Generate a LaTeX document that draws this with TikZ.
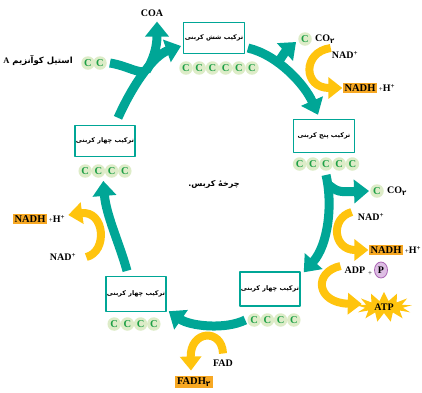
\documentclass[tikz,border=0pt]{standalone}
\usepackage{fontspec}
\setmainfont{Liberation Serif}
\newfontfamily\farsi[Script=Arabic]{DejaVu Sans}
\TeXXeTstate=1
\usetikzlibrary{arrows.meta,shapes.symbols,shapes.geometric}
\definecolor{cycteal}{RGB}{0,166,150}
\definecolor{cgold}{RGB}{255,196,14}
\definecolor{nadhfill}{RGB}{247,168,35}
\definecolor{cfill}{RGB}{221,236,200}
\definecolor{cgreen}{RGB}{30,160,70}
\begin{document}
\begin{tikzpicture}[x=1pt,y=-1pt,line join=round,
  box/.style={draw=cycteal,line width=1.4pt,fill=white,minimum width=58pt,minimum height=31pt,inner sep=1pt,font=\farsi\bfseries\fontsize{6.4}{8}\selectfont},
  carb/.style={circle,fill=cfill,inner sep=0pt,minimum size=13.5pt,text=cgreen,font=\bfseries\fontsize{10.5}{10}\selectfont},
  cyc/.style={draw=cycteal,line width=9pt,-{Triangle[width=23pt,length=15pt]}},
  ylw/.style={draw=cgold,line width=8pt,-{Triangle[width=21pt,length=14pt]}},
  lbl/.style={font=\bfseries\fontsize{10}{10}\selectfont,inner sep=1pt},
  nadh/.style={fill=nadhfill,font=\bfseries\fontsize{10.5}{10}\selectfont,inner sep=2pt}]
\useasboundingbox (0,0) rectangle (422,392);
\def\plus{{\mdseries\fontsize{7}{7}\selectfont+}}
% compounds of the cycle
\node[box] (six) at (214,38) {\beginR ترکیب شش کربنی\endR};
\node[box,minimum width=61pt,minimum height=33pt] (five) at (324,136) {\beginR ترکیب پنج کربنی\endR};
\node[box,minimum height=34pt] (fourA) at (270,289) {\beginR ترکیب چهار کربنی\endR};
\node[box,minimum height=35pt] (fourB) at (136,294) {\beginR ترکیب چهار کربنی\endR};
\node[box] (fourC) at (105,141) {\beginR ترکیب چهار کربنی\endR};
\foreach \n/\x/\y/\k in {six/219/68/6,five/326/164/5,fourA/274/320/4,fourB/134/324/4,fourC/105/171/4}
  \foreach \i in {1,...,\k} \node[carb] (\n-\i) at ({\x+(\i-(\k+1)/2)*13.2},\y) {C};
\node[carb] (ac1) at (88,63) {C};
\node[carb] (ac2) at (100,63) {C};
\node[font=\farsi\bfseries\fontsize{8.5}{9}\selectfont] (acetyl) at (38,60) {\beginR استیل کوآنزیم \beginL{\rmfamily A}\endL\endR};
\node[lbl] (coa) at (152,13) {COA};
\node[font=\farsi\bfseries\fontsize{8}{9}\selectfont] (krebs) at (214,184) {\beginR چرخهٔ کربس.\endR};
% released carbon and carriers
\node[carb] (c1) at (305,39) {C};
\node[lbl,anchor=west] (co1) at ([xshift=2pt]c1.east) {CO\textsubscript{\farsi ۲}};
\node[carb] (c2) at (377,191) {C};
\node[lbl,anchor=west] (co2) at ([xshift=2pt]c2.east) {CO\textsubscript{\farsi ۲}};
\node[lbl] (nad1) at (345,55) {NAD\textsuperscript{+}};
\node[nadh] (nadh1) at (360,88) {NADH};
\node[lbl,anchor=west] (h1) at (nadh1.east) {\plus H\textsuperscript{+}};
\node[lbl] (nad2) at (371,217) {NAD\textsuperscript{+}};
\node[nadh] (nadh2) at (386,250) {NADH};
\node[lbl,anchor=west] (h2) at (nadh2.east) {\plus H\textsuperscript{+}};
\node[lbl] (adp) at (355,270) {ADP};
\node[lbl] (pl) at (370,274) {\plus};
\node[ellipse,fill={rgb,255:red,222;green,190;blue,228},draw={rgb,255:red,170;green,100;blue,180},line width=.8pt,minimum width=13pt,minimum height=16pt,inner sep=0pt,font=\bfseries\fontsize{10}{10}\selectfont] (pi) at (381,270) {P};
\node[starburst,fill=cgold,random starburst=0,starburst points=13,starburst point height=9pt,minimum width=56pt,minimum height=27pt,inner sep=1pt,font=\bfseries\fontsize{10}{10}\selectfont] (atp) at (384,307) {ATP};
\node[nadh] (nadh3) at (30,219) {NADH};
\node[lbl,anchor=west] (h3) at (nadh3.east) {\plus H\textsuperscript{+}};
\node[lbl] (nad3) at (63,257) {NAD\textsuperscript{+}};
\node[lbl] (fad) at (223,363) {FAD};
\node[nadh] (fadh) at (194,382) {FADH\textsubscript{\farsi ۲}};
% the cycle
\draw[cyc] ([shift={(13,-7)}]fourC.north) .. controls (135,80) and (155,55) .. ([shift={(-2,8)}]six.west) coordinate[pos=.5] (j1);
\draw[draw=cycteal,line width=9pt] ([xshift=3pt]ac2.east) .. controls (128,66) and (138,74) .. (j1);
\draw[cyc] (j1) .. controls (153,60) and (157,48) .. ([shift={(5,4)}]coa.south);
\draw[cyc] ([shift={(3,10)}]six.east) .. controls (278,55) and (305,85) .. ([shift={(-6,-4)}]five.north) coordinate[pos=.35] (j2);
\draw[cyc] (j2) .. controls (285,52) .. ([shift={(-2,3)}]c1.west);
\draw[cyc] ([yshift=-4pt]five-3.south) .. controls (333,205) and (328,245) .. ([shift={(3,1)}]fourA.north east) coordinate[pos=.1] (j3);
\draw[cyc] (j3) .. controls (338,192) .. ([xshift=-1pt]c2.west);
\draw[cyc] ([xshift=-2pt]fourA-1.west) .. controls (225,330) and (190,326) .. ([shift={(2,-1)}]fourB.south east);
\draw[cyc] ([shift={(-9,-5)}]fourB.north) .. controls (120,245) and (106,215) .. ([yshift=-5pt]fourC-2.south east);
% carriers
\draw[ylw] ([shift={(0,-7)}]nad1.west) .. controls (302,52) and (303,88) .. (nadh1.west);
\draw[ylw] ([shift={(-5,-5)}]nad2.west) .. controls (330,218) and (333,250) .. (nadh2.west);
\draw[ylw] ([shift={(-3,-4)}]adp.west) .. controls (313,272) and (316,303) .. ([yshift=3pt]atp.west);
\draw[ylw] ([xshift=9pt]nad3.east) .. controls (108,252) and (105,210) .. ([shift={(2,-4)}]h3.east);
\draw[ylw] ([yshift=5pt]fad.north) .. controls (222,328) and (190,330) .. ([shift={(-3,-5)}]fadh.north);
\end{tikzpicture}
\end{document}
